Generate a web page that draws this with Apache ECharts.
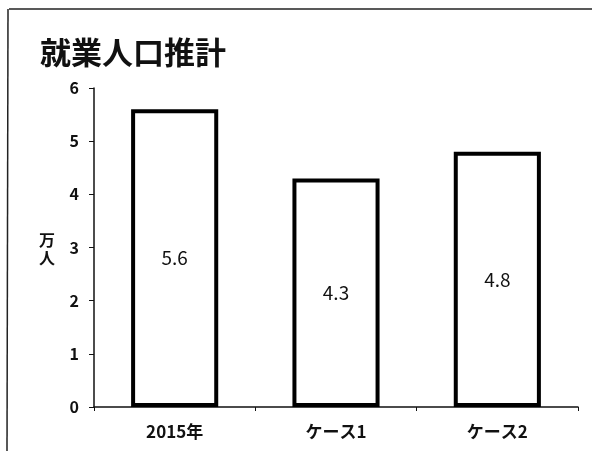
<!DOCTYPE html>
<html>
<head>
<meta charset="utf-8">
<script src="https://cdn.jsdelivr.net/npm/echarts@6/dist/echarts.min.js"></script>
<style>
  html, body { margin: 0; padding: 0; background: #fff; }
  #chart { width: 592px; height: 451px; }
</style>
</head>
<body>
<div id="chart"></div>
<script>
// 就業人口推計（万人）
const categories = ['2015年', 'ケース1', 'ケース2'];
const workers = [5.6, 4.3, 4.8];
const yTicks = [0, 1, 2, 3, 4, 5, 6];

const FONT = '"Noto Sans CJK JP", "Noto Sans", sans-serif';
const chart = echarts.init(document.getElementById('chart'), null, { renderer: 'canvas' });

chart.setOption({
  backgroundColor: '#ffffff',
  animation: false,
  title: {
    text: '就業人口推計',
    left: 35,
    top: 32,
    textStyle: { fontFamily: FONT, fontSize: 31, fontWeight: 'bold', color: '#111' }
  },
  graphic: [
    { type: 'line', shape: { x1: 9, y1: 9, x2: 592, y2: 9 }, style: { stroke: '#222', lineWidth: 1.5 } },
    { type: 'line', shape: { x1: 8, y1: 9, x2: 7, y2: 451 }, style: { stroke: '#222', lineWidth: 1.5 } },
    {
      type: 'text', left: 39, top: 231,
      style: { text: '万\n人', font: 'bold 16px ' + FONT, fill: '#111', lineHeight: 18 }
    }
  ],
  grid: { left: 94, right: 14, top: 88, bottom: 44, containLabel: false },
  xAxis: {
    type: 'category',
    data: categories,
    axisLine: { lineStyle: { color: '#111', width: 1.5 } },
    axisTick: { show: true, alignWithLabel: false, length: 4, lineStyle: { color: '#111' } },
    axisLabel: { fontFamily: FONT, fontSize: 17, fontWeight: 'bold', color: '#111', margin: 16 }
  },
  yAxis: {
    type: 'value',
    min: yTicks[0],
    max: yTicks[yTicks.length - 1],
    interval: 1,
    splitLine: { show: false },
    axisLine: { show: true, lineStyle: { color: '#111', width: 1.5 } },
    axisTick: { show: true, length: 5, lineStyle: { color: '#111' } },
    axisLabel: { fontFamily: FONT, fontSize: 16, fontWeight: 'bold', color: '#111', margin: 15 }
  },
  series: [{
    type: 'bar',
    data: workers,
    barWidth: '54%',
    itemStyle: { color: '#ffffff', borderColor: '#000', borderWidth: 4 },
    label: {
      show: true,
      position: 'inside',
      fontFamily: FONT,
      fontSize: 19,
      color: '#111',
      formatter: p => p.value.toFixed(1)
    }
  }]
});
</script>
</body>
</html>
